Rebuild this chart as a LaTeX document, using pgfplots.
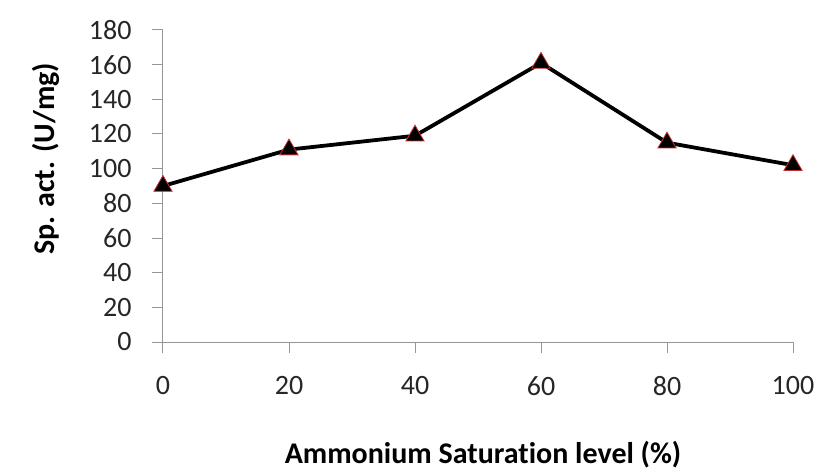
\documentclass[border=0pt]{standalone}
\usepackage{pgfplots}
\pgfplotsset{compat=1.18}
\usepackage{fontspec}
\setmainfont[Ligatures={NoCommon}]{Carlito}
\definecolor{axgray}{RGB}{150,150,150}
\definecolor{mred}{RGB}{200,50,50}
\begin{document}
\begin{tikzpicture}
\begin{axis}[
  name=ax,
  scale only axis,
  width=630pt, height=312pt,
  xmin=0, xmax=100, ymin=0, ymax=180,
  xtick={0,20,...,100}, ytick={0,20,...,180},
  axis x line=bottom, axis y line=left,
  axis line style={-, draw=axgray, line width=1pt},
  tick style={draw=axgray, line width=1pt},
  tick align=outside,
  major tick length=11pt,
  /pgf/number format/assume math mode=true,
  ticklabel style={font=\fontsize{28}{32}\selectfont, text=black!85},
  xticklabel style={yshift=-20pt},
  yticklabel style={xshift=-17pt},
  xlabel={\textbf{Ammonium Saturation level (\%)}},
  ylabel={\textbf{Sp. act. (U/mg)}},
  label style={font=\fontsize{30}{34}\selectfont},
  xlabel style={yshift=-38pt, xshift=5pt},
  ylabel style={yshift=22pt, xshift=27pt},
  clip=false,
]
\addplot[black, line width=3.8pt, mark=triangle*, mark size=10.5pt,
  mark options={fill=black, draw=mred, line width=0.8pt}]
  coordinates {(0,90) (20,111) (40,119) (60,161) (80,115) (100,102)};
\end{axis}
\path ([xshift=-163pt,yshift=-123pt]ax.south west) rectangle ([xshift=658pt,yshift=342pt]ax.south west);
\end{tikzpicture}
\end{document}
